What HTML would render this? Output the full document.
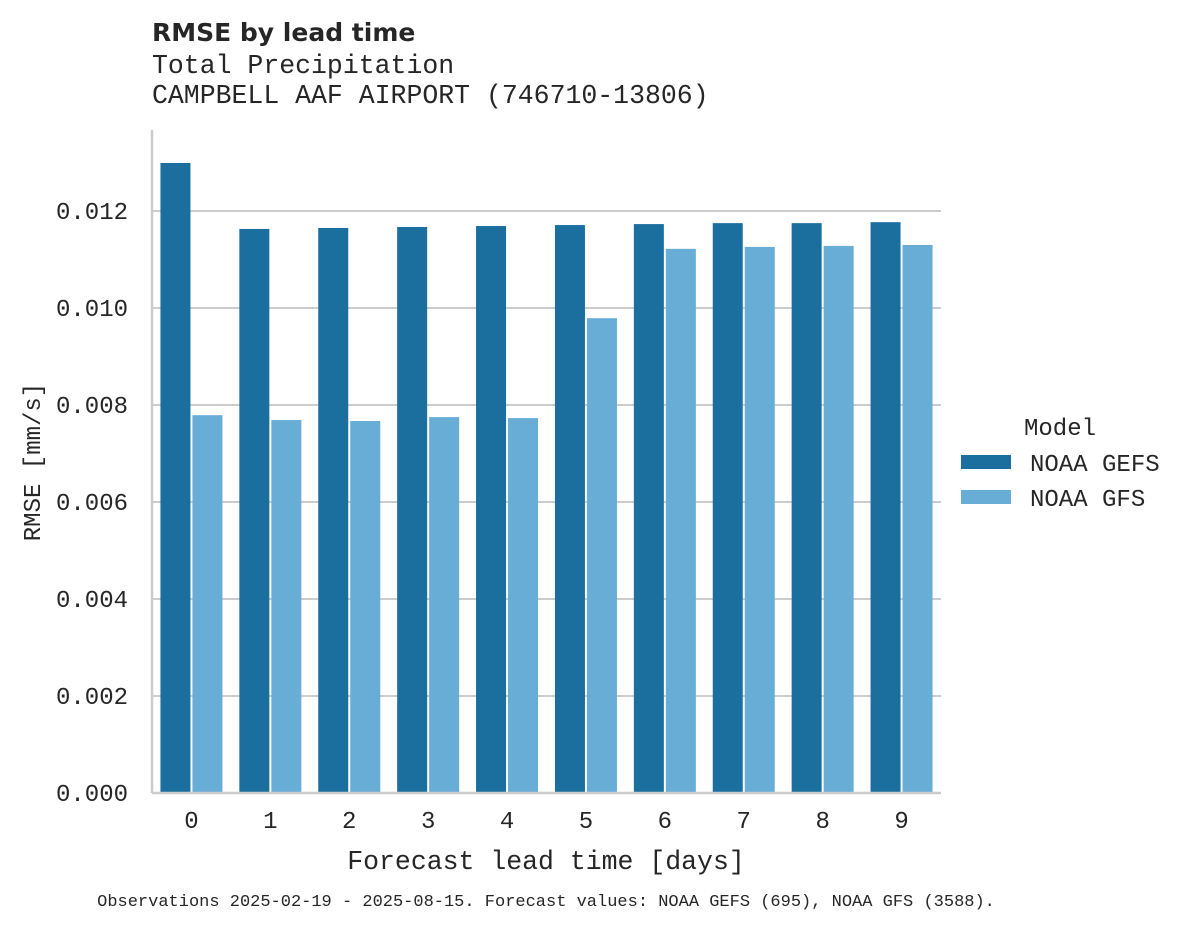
<!DOCTYPE html>
<html><head><meta charset="utf-8"><style>
body{margin:0;background:#fff;}
svg text{font-family:"Liberation Mono","DejaVu Sans Mono",monospace;fill:#262626;}
</style></head><body>
<svg id="chart" width="1182" height="928" xmlns="http://www.w3.org/2000/svg">
<text x="152" y="41" style="font-family:'DejaVu Sans',sans-serif;font-weight:bold;font-size:25px">RMSE by lead time</text>
<text x="152" y="73" font-size="26.5">Total Precipitation</text>
<text x="152" y="103" font-size="26.5">CAMPBELL AAF AIRPORT (746710-13806)</text>
<g id="grid"></g><g id="bars"></g><g id="ticks"></g>
<line x1="152" y1="130" x2="152" y2="793" stroke="#ccc" stroke-width="2.5"/>
<line x1="152" y1="793" x2="941" y2="793" stroke="#ccc" stroke-width="2.5"/>
<text x="546" y="869" font-size="26.5" text-anchor="middle">Forecast lead time [days]</text>
<text transform="translate(40,462) rotate(-90)" font-size="24" text-anchor="middle">RMSE [mm/s]</text>
<g>
<text x="1060" y="435" font-size="24" text-anchor="middle">Model</text>
<rect x="961" y="455" width="50" height="14" fill="#1a6f9f"/>
<text x="1030" y="471" font-size="24">NOAA GEFS</text>
<rect x="961" y="490" width="50" height="14" fill="#67add6"/>
<text x="1030" y="506" font-size="24">NOAA GFS</text>
</g>
<text x="546" y="906" font-size="17" text-anchor="middle">Observations 2025-02-19 - 2025-08-15. Forecast values: NOAA GEFS (695), NOAA GFS (3588).</text>
</svg>
<script>
const categories=["0","1","2","3","4","5","6","7","8","9"];
const gefs=[0.01299,0.01163,0.01165,0.01167,0.01169,0.01171,0.01173,0.01175,0.01175,0.01177];
const gfs=[0.00779,0.00769,0.00767,0.00775,0.00773,0.00979,0.01122,0.01126,0.01128,0.0113];
const yTicks=[0,0.002,0.004,0.006,0.008,0.010,0.012];
const yTickLabels=["0.000","0.002","0.004","0.006","0.008","0.010","0.012"];
const NS="http://www.w3.org/2000/svg";
const x0=152,x1=941,y0=793,yPerUnit=582/0.012;
const band=(x1-x0)/categories.length;
const y=v=>y0-v*yPerUnit;
const xc=i=>x0+band*(i+0.5);
function mk(t,a,p){const e=document.createElementNS(NS,t);for(const k in a)e.setAttribute(k,a[k]);document.getElementById(p).appendChild(e);return e;}
yTicks.forEach((v,i)=>{
  if(v>0){const l=mk("line",{x1:x0,x2:x1,y1:y(v),y2:y(v),stroke:"#ccc","stroke-width":2},"grid");
  
  }
  const t=mk("text",{x:128,y:y(v)+8,"font-size":24,"text-anchor":"end"},"ticks");
  t.textContent=yTickLabels[i];
  
  
});
categories.forEach((c,i)=>{
  const w=30;
  const a=mk("rect",{x:xc(i)-w-1,y:y(gefs[i]),width:w,height:y0-y(gefs[i]),fill:"#1a6f9f"},"bars");
  
  
  const b=mk("rect",{x:xc(i)+1,y:y(gfs[i]),width:w,height:y0-y(gfs[i]),fill:"#67add6"},"bars");
  
  
  const t=mk("text",{x:xc(i),y:828,"font-size":24,"text-anchor":"middle"},"ticks");
  t.textContent=c;
  
  
});
</script>
</body></html>
